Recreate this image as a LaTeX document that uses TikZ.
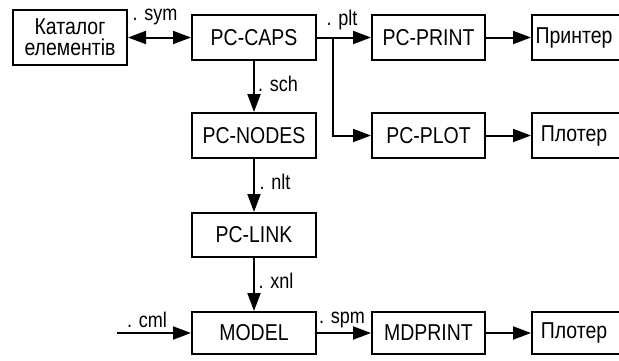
\documentclass[tikz,border=0pt]{standalone}
\usepackage{fontspec}
\setmainfont{Liberation Sans}
\usetikzlibrary{arrows.meta}
\newcommand{\tx}[1]{\scalebox{0.95}[1.12]{#1}}
\begin{document}
\begin{tikzpicture}[x=1pt,y=-1pt,
  box/.style={draw,line width=2pt,inner sep=0pt,font=\fontsize{20.5}{24}\selectfont,align=center},
  lbl/.style={inner sep=0pt,font=\fontsize{19}{21}\selectfont},
  conn/.style={line width=2pt,-{Triangle[length=18pt,width=13pt]}},
  wire/.style={line width=2pt}]
\useasboundingbox (0,0) rectangle (619,360);
\node[box,minimum width=114pt,minimum height=55pt] (cat) at (70,37.5) {\tx{Каталог}\\[-3pt]\tx{елементів}};
\node[box,minimum width=124pt,minimum height=45pt] (caps) at (254,37.5) {\tx{PC-CAPS}};
\node[box,minimum width=124pt,minimum height=45pt] (nodes) at (254,135.5) {\tx{PC-NODES}};
\node[box,minimum width=124pt,minimum height=44pt] (link) at (254,235) {\tx{PC-LINK}};
\node[box,minimum width=124pt,minimum height=42pt] (model) at (254,333) {\tx{MODEL}};
\node[box,minimum width=113pt,minimum height=45pt] (print) at (428.5,37.5) {\tx{PC-PRINT}};
\node[box,minimum width=113pt,minimum height=45pt] (plot) at (428.5,135.5) {\tx{PC-PLOT}};
\node[box,minimum width=113pt,minimum height=42pt] (mdprint) at (428.5,333) {\tx{MDPRINT}};
\node[box,minimum width=93pt,minimum height=45pt,text width=93pt] (printer) at (578.5,37.5) {\hspace*{-9pt}\tx{Принтер}};
\node[box,minimum width=93pt,minimum height=45pt,text width=93pt] (plotter1) at (578.5,135.5) {\hspace*{-9pt}\tx{Плотер}};
\node[box,minimum width=93pt,minimum height=42pt,text width=93pt] (plotter2) at (578.5,333) {\hspace*{-9pt}\tx{Плотер}};
\coordinate (split) at (333,37.5);
\coordinate (cmlstart) at (117,333);
\draw[line width=2pt,{Triangle[length=18pt,width=13pt]}-{Triangle[length=18pt,width=13pt]}] (cat.east) -- (caps.west);
\draw[conn] (caps) -- (nodes);
\draw[conn] (nodes) -- (link);
\draw[conn] (link) -- (model);
\draw[conn] (caps.east) -- (print.west);
\draw[conn] (split) |- (plot.west);
\draw[conn] (print) -- (printer);
\draw[conn] (plot) -- (plotter1);
\draw[conn] (cmlstart) -- (model.west);
\draw[conn] (model) -- (mdprint);
\draw[conn] (mdprint) -- (plotter2);
\node[lbl] (lsym) at (155,17) {\tx{. sym}};
\node[lbl] (lsch) at (278,84) {\tx{. sch}};
\node[lbl] (lplt) at (342,20) {\tx{. plt}};
\node[lbl] (lnlt) at (275,182) {\tx{. nlt}};
\node[lbl] (lxnl) at (276,281) {\tx{. xnl}};
\node[lbl] (lcml) at (147,320) {\tx{. cml}};
\node[lbl] (lspm) at (342,320) {\tx{. spm}};
\end{tikzpicture}
\end{document}
